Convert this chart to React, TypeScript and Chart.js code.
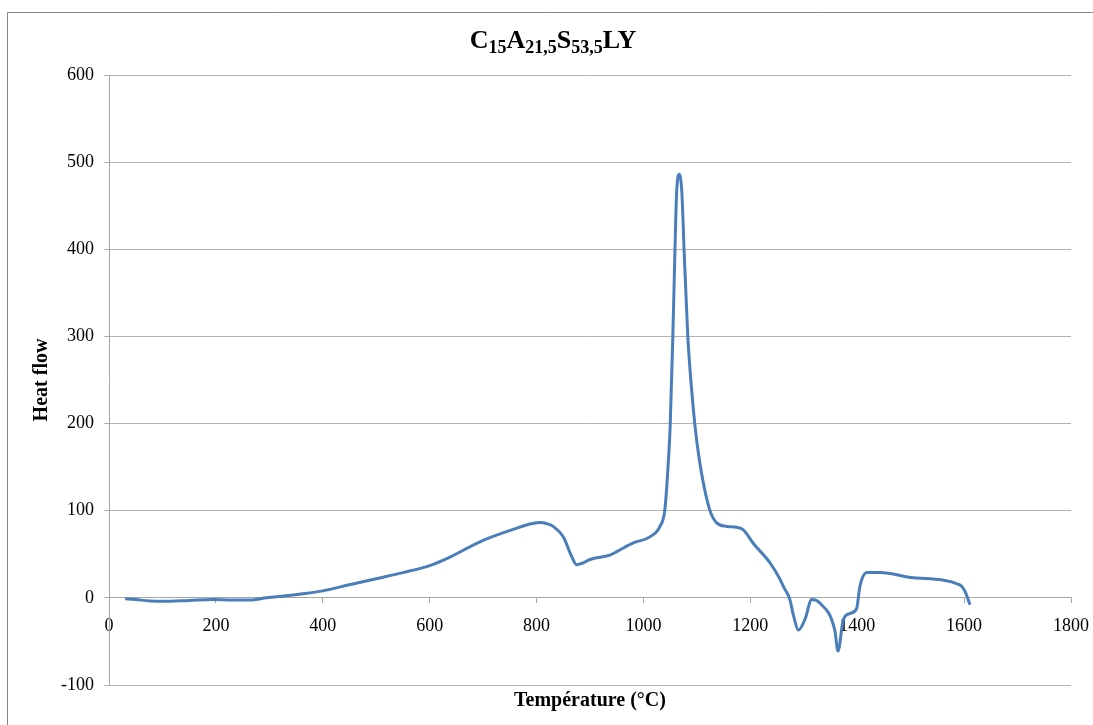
import React, { useEffect, useRef } from "react";
import { Chart, registerables } from "chart.js";

Chart.register(...registerables);

// Data
const temperature = [
  30, 50, 77, 100, 150, 195, 230, 264, 295, 340,
  400, 450, 500, 550, 600, 632, 700, 763, 790, 806,
  820, 831, 850, 866, 875, 887, 900, 937, 950, 981,
  1012, 1031, 1040, 1046, 1050, 1055, 1059, 1062, 1067, 1072,
  1076, 1083, 1090, 1096, 1103, 1112, 1124, 1137, 1156, 1174,
  1187, 1205, 1237, 1255, 1262, 1274, 1281, 1290, 1302, 1315,
  1330, 1358, 1364, 1374, 1386, 1399, 1405, 1418, 1443, 1505,
  1592, 1602, 1611,
];
const heatFlow = [
  -1, -2, -3.5, -4, -3, -2, -2.5, -2.5, 0, 3,
  8, 15, 22, 29, 37, 45, 66, 80, 85, 86.5,
  85, 82, 70, 47, 38, 40, 44, 49, 53, 63,
  70, 82, 101, 150, 197, 300, 400, 464, 486, 464,
  400, 300, 240, 200, 165, 132, 101, 86, 82, 81,
  78, 63, 40, 22, 13, -2, -21, -37, -25, -2,
  -6, -37, -61, -25, -18, -12, 13, 29, 29, 23,
  15, 7, -8,
];
const xTicks = [0, 200, 400, 600, 800, 1000, 1200, 1400, 1600, 1800];
const yTicks = [-100, 0, 100, 200, 300, 400, 500, 600];
const titleParts: [string, boolean][] = [
  ["C", false], ["15", true], ["A", false], ["21,5", true],
  ["S", false], ["53,5", true], ["LY", false],
];
const yAxisTitle = "Heat flow";
const xAxisTitle = "Température (°C)";

const FONT = "'Liberation Serif', 'Times New Roman', serif";

const decorPlugin = {
  id: "decor",
  beforeDraw(chart: any) {
    const ctx = chart.ctx;
    ctx.save();
    ctx.fillStyle = "#ffffff";
    ctx.fillRect(0, 0, chart.width, chart.height);
    ctx.strokeStyle = "#868686";
    ctx.lineWidth = 1;
    ctx.beginPath();
    ctx.moveTo(7.5, chart.height + 5);
    ctx.lineTo(7.5, 12.5);
    ctx.lineTo(chart.width + 5, 12.5);
    ctx.stroke();
    ctx.restore();
  },
  afterDraw(chart: any) {
    const ctx = chart.ctx;
    const area = chart.chartArea;
    ctx.save();
    ctx.fillStyle = "#000";
    // Title with subscripts
    const mainFont = `bold 26px ${FONT}`;
    const subFont = `bold 18px ${FONT}`;
    let total = 0;
    const widths = titleParts.map(([t, sub]) => {
      ctx.font = sub ? subFont : mainFont;
      const w = ctx.measureText(t).width;
      total += w;
      return w;
    });
    let x = 553 - total / 2;
    ctx.textBaseline = "alphabetic";
    ctx.textAlign = "left";
    titleParts.forEach(([t, sub], i) => {
      ctx.font = sub ? subFont : mainFont;
      ctx.fillText(t, x, sub ? 53 : 48);
      x += widths[i];
    });
    // Axis titles
    ctx.font = `bold 20px ${FONT}`;
    ctx.textAlign = "center";
    ctx.textBaseline = "middle";
    ctx.fillText(xAxisTitle, (area.left + area.right) / 2, 701);
    ctx.translate(42, (area.top + area.bottom) / 2);
    ctx.rotate(-Math.PI / 2);
    ctx.fillText(yAxisTitle, 0, 0);
    ctx.restore();
  },
};

export default function App() {
  const ref = useRef<HTMLCanvasElement | null>(null);
  useEffect(() => {
    document.body.style.margin = "0";
    const canvas = ref.current!;
    const chart = new Chart(canvas, {
      type: "line",
      data: {
        datasets: [
          {
            data: temperature.map((t, i) => ({ x: t, y: heatFlow[i] })),
            borderColor: "#4a7ebb",
            borderWidth: 3,
            pointRadius: 0,
            fill: false,
            cubicInterpolationMode: "monotone",
          },
        ],
      },
      options: {
        responsive: false,
        animation: false,
        devicePixelRatio: 1,
        layout: { padding: { left: 8, top: 75, right: 22, bottom: 40 } },
        plugins: { legend: { display: false }, tooltip: { enabled: false }, title: { display: false } },
        scales: {
          x: {
            type: "linear",
            min: 0,
            max: 1800,
            position: { y: 0 } as any,
            afterBuildTicks: (s: any) => {
              s.ticks = xTicks.map((v) => ({ value: v }));
            },
            afterFit: (s: any) => {
              s.paddingLeft = 0;
              s.paddingRight = 0;
            },
            ticks: {
              color: "#000",
              font: { family: FONT, size: 18 },
              padding: 13,
              maxRotation: 0,
              autoSkip: false,
              callback: (v: any) => String(v),
            },
            grid: { drawOnChartArea: false, drawTicks: true, tickLength: 5, color: "#a6a6a6" },
            border: { color: "#a6a6a6" },
          },
          y: {
            type: "linear",
            min: -100,
            max: 600,
            afterBuildTicks: (s: any) => {
              s.ticks = yTicks.map((v) => ({ value: v }));
            },
            afterFit: (s: any) => {
              s.width = 101;
            },
            ticks: {
              color: "#000",
              font: { family: FONT, size: 18 },
              padding: 10,
              callback: (v: any) => String(v),
            },
            grid: { color: "#b3b3b3", tickLength: 5 },
            border: { color: "#a6a6a6" },
          },
        },
      },
      plugins: [decorPlugin],
    });
    return () => chart.destroy();
  }, []);
  return (
    <div style={{ position: "absolute", left: 0, top: 0, width: 1093, height: 725 }}>
      <canvas ref={ref} width={1093} height={725} style={{ display: "block" }} />
    </div>
  );
}
